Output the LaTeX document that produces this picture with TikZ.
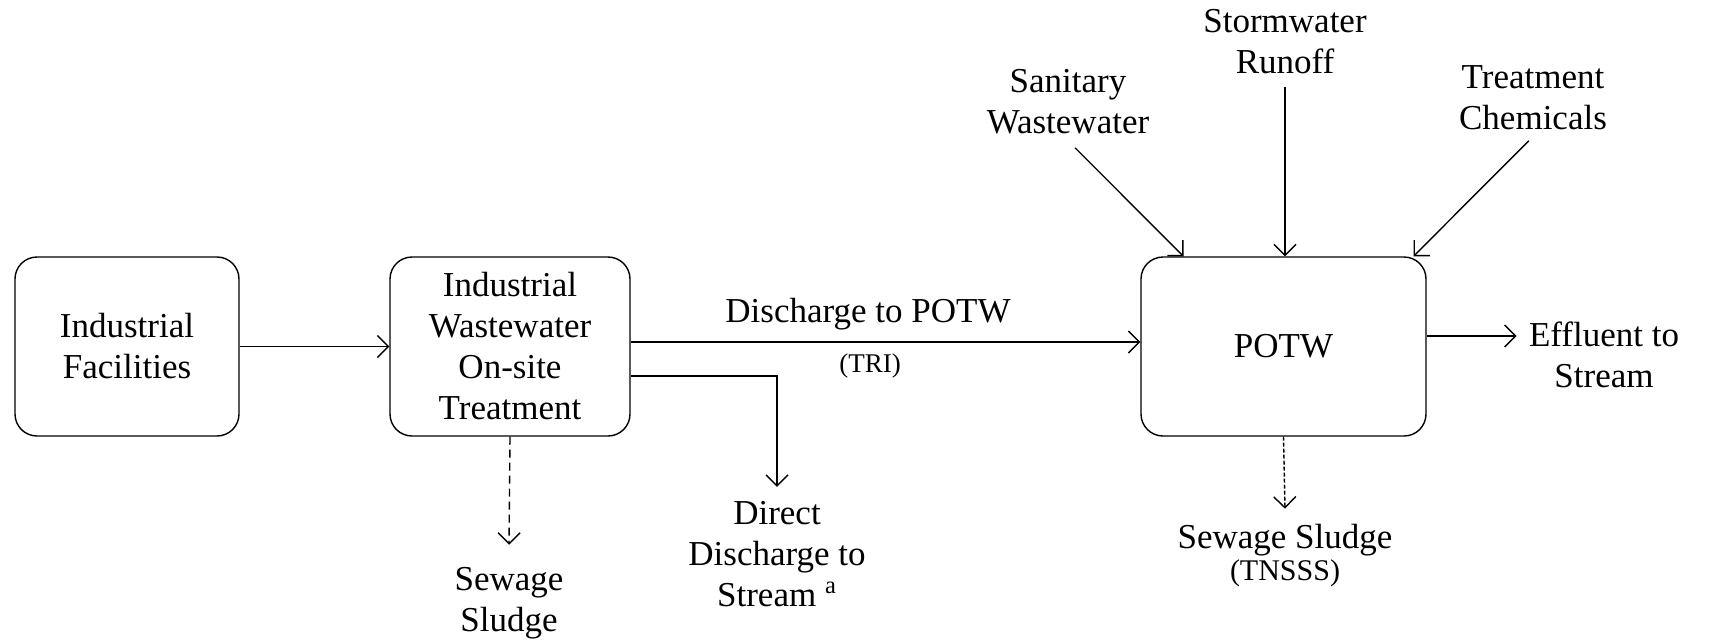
\documentclass[tikz,border=0pt]{standalone}
\usepackage{fontspec}
\setmainfont{Liberation Serif}
\usetikzlibrary{arrows.meta}

\begin{document}
\begin{tikzpicture}[x=0.5pt,y=-0.5pt,
    txt/.style={font=\fontsize{17.5}{20.5}\selectfont, align=center, inner sep=3pt},
    box/.style={txt, draw, line width=0.7pt, rounded corners=11pt, minimum height=89.5pt},
    arr/.style={line width=0.7pt, -{Straight Barb[length=5.5pt,width=11pt,line width=0.7pt]}},
    small/.style={font=\fontsize{#1}{#1}\selectfont, inner sep=0.5pt}]
    \useasboundingbox (0,0) rectangle (1711,643);

    \node[box, minimum width=112pt] (fac) at (127,346.5) {Industrial\\Facilities};
    \node[box, minimum width=120pt] (onsite) at (510,346.5) {Industrial\\Wastewater\\On-site\\Treatment};
    \node[box, minimum width=142.5pt] (potw) at (1283.5,346.5) {POTW};

    \node[txt] (sanitary) at (1068,102) {Sanitary\\Wastewater};
    \node[txt] (storm) at (1285,42) {Stormwater\\Runoff};
    \node[txt] (chem) at (1533,98) {Treatment\\Chemicals};

    \node[txt] (dlab) at (868,314) {Discharge to POTW};
    \node[small=13.5] (tri) at (870,366) {(TRI)};
    \node[txt] (direct) at (777,554) {Direct\\Discharge to\\Stream~\textsuperscript{a}};
    \node[txt] (sludge1) at (509,603) {Sewage\\Sludge};
    \node[txt, inner sep=0.5pt] (sludge2) at (1285,540) {Sewage Sludge};
    \node[small=15] (tnsss) at (1285,573) {(TNSSS)};
    \node[txt] (effluent) at (1604,354.5) {Effluent to\\Stream};

    \draw[arr] (fac) -- (onsite);
    \draw[arr] ([yshift=2.25pt]onsite.east) -- ([yshift=2.25pt]potw.west);
    \draw[arr] ([yshift=-14.75pt]onsite.east) -| ([yshift=4pt]direct.north);
    \draw[arr, dash pattern=on 4pt off 2.5pt] (onsite.south) -- ([yshift=8pt]sludge1.north);
    \draw[arr, dash pattern=on 2pt off 1pt] (potw.south) -- ([yshift=7pt]sludge2.north);
    \draw[arr, shorten >=3pt] ([yshift=5.25pt]potw.east) -- ([yshift=5.25pt]potw.east -| effluent.west);

    \draw[arr, shorten <=5pt] (sanitary.south) -- ([xshift=-50pt]potw.north);
    \draw[arr, shorten <=3pt] (storm.south) -- ([xshift=0.75pt]potw.north);
    \draw[arr, shorten <=3pt] (chem.south) -- ([xshift=65pt]potw.north);
\end{tikzpicture}
\end{document}
